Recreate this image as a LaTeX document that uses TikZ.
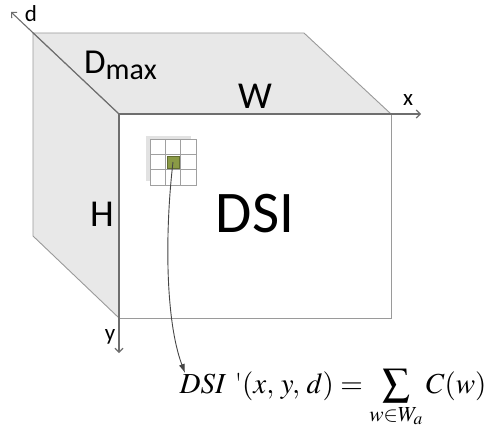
\documentclass[tikz,border=0pt]{standalone}
\usepackage[no-math]{fontspec}
\usepackage{mathptmx}
\usepackage{graphicx}
\usepackage{tikz}
\usetikzlibrary{arrows.meta, calc}
\newfontfamily\labelfont{Carlito}
\definecolor{facegray}{HTML}{E8E8E8}
\definecolor{edgegray}{HTML}{9A9A9A}
\definecolor{axisgray}{HTML}{6E6E6E}
\definecolor{gridgray}{HTML}{A0A0A0}
\definecolor{shadowgray}{HTML}{E2E2E2}
\definecolor{pixgreen}{HTML}{8A9A45}
\definecolor{curvegray}{HTML}{454545}
\newcommand{\bigsum}{\mathop{\vcenter{\hbox{\scalebox{1.35}{$\sum$}}}}}

\begin{document}
\begin{tikzpicture}[
    x=1pt, y=-1pt,
    face/.style  = {fill=facegray, draw=edgegray, line width=0.9pt},
    edge/.style  = {draw=edgegray, line width=0.9pt},
    axis/.style  = {draw=axisgray, line width=1.1pt,
                    -{Straight Barb[length=4pt, width=8pt]}},
    lbl/.style   = {inner sep=0pt, font=\labelfont\fontsize{38}{38}\selectfont},
    axlbl/.style = {inner sep=0pt, font=\labelfont\fontsize{23}{23}\selectfont},
    cell/.style  = {draw=gridgray, fill=white, line width=0.8pt,
                    minimum size=15.3pt, inner sep=0pt, outer sep=0pt},
  ]
  \useasboundingbox (0,0) rectangle (489,446);

  %% Corners of the volume
  \coordinate (o)  at (119,114);
  \coordinate (bt) at (33,33);
  \coordinate (br) at (304,33);
  \coordinate (fr) at (391,114);
  \coordinate (fb) at (119,318);
  \coordinate (bb) at (33,236);
  \coordinate (fbr) at (391,318);

  %% Top and left faces
  \path[face] (bt) -- (br) -- (fr) -- (o) -- cycle;
  \path[face] (bt) -- (o) -- (fb) -- (bb) -- cycle;

  %% Front face
  \path[fill=white, draw=edgegray, line width=0.9pt] (o) rectangle (fbr);

  %% Axes
  \coordinate (xend) at (421,114);
  \coordinate (yend) at (119,353);
  \coordinate (dend) at (11,12);
  \draw[axis] (o) -- (xend);
  \draw[axis] (o) -- (yend);
  \draw[axis] (o) -- (dend);

  \node[axlbl] (xl) at (408,100) {x};
  \node[axlbl] (yl) at (110,337) {y};
  \node[axlbl] (dl) at (31,14)  {d};

  %% Dimension labels
  \node[lbl, anchor=base west] (dmax) at (84,74)
       {{\fontsize{35}{35}\selectfont D}\raisebox{-6pt}{\fontsize{30}{30}\selectfont max}};
  \node[lbl] (wl) at (255,96)  {W};
  \node[lbl] (hl) at (102,214) {H};
  \node[lbl, font=\labelfont\fontsize{59}{59}\selectfont] (dsi) at (255,214) {DSI};

  %% Aggregation window
  \fill[shadowgray] (146,136) rectangle (191,181);
  \foreach \i in {0,1,2} {
    \foreach \j in {0,1,2} {
      \node[cell] (c\i\j) at ({157.7+15.3*\i},{146.7+15.3*\j}) {};
    }
  }
  \node[draw=pixgreen!70!black, fill=pixgreen, minimum size=12pt,
        inner sep=0pt, line width=0.5pt] (pix) at (c11) {};

  %% Cost aggregation formula
  \node[inner sep=0pt, anchor=base, font=\fontsize{29}{32}\selectfont] (eq) at (333,393)
       {$\mathit{DSI}\ \textrm{\textquotesingle}(x,\,y,\,d)=\bigsum\limits_{w\in W_a}C(w)$};

  \coordinate (tip) at (185,373);
  \draw[curvegray, line width=0.9pt, -{Latex[length=9pt, width=6pt]}]
       (pix.center) .. controls (165,230) and (165,320) .. (tip);
\end{tikzpicture}
\end{document}
